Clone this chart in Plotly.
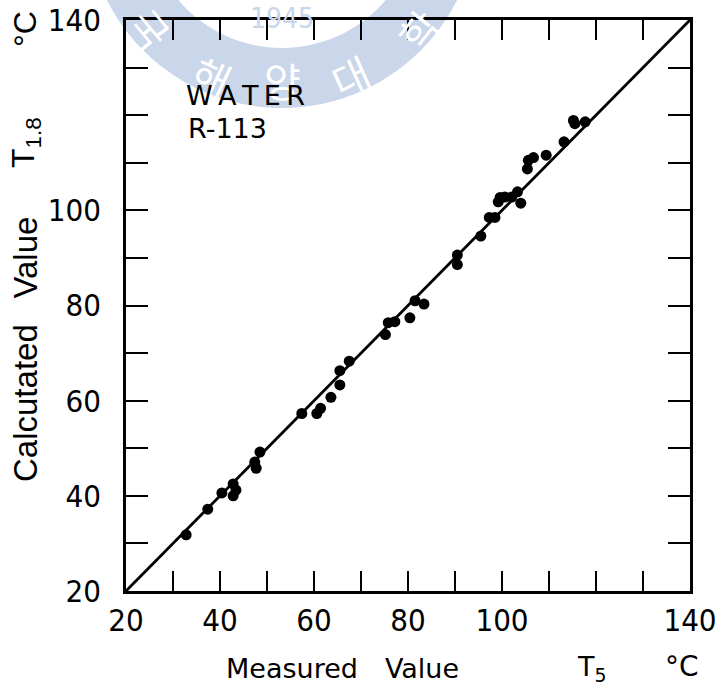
import math
import plotly.graph_objects as go

# Measured (T5) vs calculated (T1.8) temperatures, deg C
measured = [32.8, 37.4, 40.4, 42.8, 43.4, 42.8, 47.4, 47.7, 48.5,
            57.4, 60.6, 61.4, 63.6, 65.5, 65.5, 67.5,
            75.2, 75.8, 77.2, 80.4, 81.5, 83.4,
            90.5, 90.5, 95.5, 97.3, 98.5, 99.2, 99.6, 100.6, 102.1, 103.3, 104.0,
            105.4, 105.6, 106.7, 109.4, 113.2, 115.2, 115.5, 117.7]
calculated = [31.8, 37.2, 40.6, 42.5, 41.2, 40.0, 47.1, 45.8, 49.2,
              57.3, 57.3, 58.4, 60.7, 63.3, 66.3, 68.3,
              73.9, 76.4, 76.6, 77.4, 81.0, 80.3,
              90.6, 88.6, 94.6, 98.5, 98.5, 101.8, 102.7, 102.8, 102.8, 103.9, 101.5,
              108.7, 110.5, 111.1, 111.6, 114.4, 118.9, 118.2, 118.6]

axis_range = [20, 140]
tick_vals = list(range(20, 141, 10))
labelled_ticks = [20, 40, 60, 80, 100, 140]
tick_text = [str(v) if v in labelled_ticks else "" for v in tick_vals]

W, H = 718, 687
L, R, T, B = 126, 28, 20, 96
PW, PH = W - L - R, H - T - B

TICK_FONT = "Liberation Sans Narrow, DejaVu Sans Condensed, Arial Narrow, sans-serif"
TITLE_FONT = "DejaVu Sans, sans-serif"
YTITLE_FONT = "Liberation Sans, Arial, sans-serif"
SEAL_BLUE = "#cad6ea"


def fx(p):
    """pixel x -> paper x"""
    return (p - L) / PW


def fy(p):
    """pixel y -> paper y"""
    return (H - B - p) / PH


def label(text, x, y, size, family=TITLE_FONT, color="black", angle=0, xanchor="center"):
    return dict(text=text, x=fx(x), y=fy(y), xref="paper", yref="paper",
                xanchor=xanchor, yanchor="middle", showarrow=False, textangle=angle,
                font=dict(family=family, size=size, color=color))


fig = go.Figure()

# 1:1 reference line
fig.add_trace(go.Scatter(
    x=axis_range, y=axis_range, mode="lines",
    line=dict(color="black", width=2.8), hoverinfo="skip", showlegend=False,
))

# data points
fig.add_trace(go.Scatter(
    x=measured, y=calculated, mode="markers",
    marker=dict(color="black", size=11), showlegend=False, cliponaxis=False,
))

axis_common = dict(
    range=axis_range, tickmode="array", tickvals=tick_vals, ticktext=tick_text,
    showline=True, linewidth=2.5, linecolor="black", mirror="allticks",
    ticks="inside", tickwidth=1.8, tickcolor="black",
    showgrid=False, zeroline=False, automargin=False,
    tickfont=dict(family=TICK_FONT, size=31, color="black"),
)
fig.update_xaxes(**axis_common, ticklen=20, ticklabelstandoff=0)
fig.update_yaxes(**axis_common, ticklen=22, ticklabelstandoff=16)

# university seal watermark (filled ring with lettering) behind the chart
cx, cy = 282, -88
r_out, r_in = 196, 136
pts_out = [(cx + r_out * math.cos(a / 180 * math.pi), cy + r_out * math.sin(a / 180 * math.pi))
           for a in range(0, 181, 3)]
pts_in = [(cx + r_in * math.cos(a / 180 * math.pi), cy + r_in * math.sin(a / 180 * math.pi))
          for a in range(180, -1, -3)]
path = "M " + " L ".join(f"{fx(x):.4f},{fy(y):.4f}" for x, y in pts_out + pts_in) + " Z"
shapes = [dict(type="path", path=path, xref="paper", yref="paper",
               fillcolor=SEAL_BLUE, line=dict(width=0), layer="below")]

annotations = []
for ch, (x, y, ang) in {"국": (150, 28, 50), "해": (212, 76, 25), "양": (282, 80, 0),
                        "대": (350, 76, -24), "학": (418, 30, -52)}.items():
    annotations.append(label(ch, x, y, 40, family="Noto Sans CJK KR", color="white", angle=ang))
annotations.append(label("1945", 282, 19, 28, family=TICK_FONT, color=SEAL_BLUE))

# series label inside the plot
annotations.append(label("W\u2009A\u2009T\u2009E\u2009R", 184, 96, 27, xanchor="left"))
annotations.append(label("R-113", 186, 129, 27, xanchor="left"))

# x-axis title pieces
annotations.append(label("Measured\u2002\u2002Value", 342, 668, 27))
annotations.append(label("T<sub>5</sub>", 592, 668, 27))
annotations.append(label("°C", 682, 666, 28))

# y-axis title pieces
annotations.append(label("Calcutated\u2002 Value", 25, 350, 33, family=YTITLE_FONT, angle=-90))
annotations.append(label("T<sub>1.8</sub>", 25, 143, 32, family=YTITLE_FONT, angle=-90))
annotations.append(label("°C", 25, 29, 32, family=YTITLE_FONT, angle=-90))

fig.update_layout(
    width=W, height=H,
    margin=dict(l=L, r=R, t=T, b=B, autoexpand=False),
    paper_bgcolor="white", plot_bgcolor="rgba(0,0,0,0)",
    shapes=shapes, annotations=annotations, showlegend=False,
)

fig.write_html("out.html")
